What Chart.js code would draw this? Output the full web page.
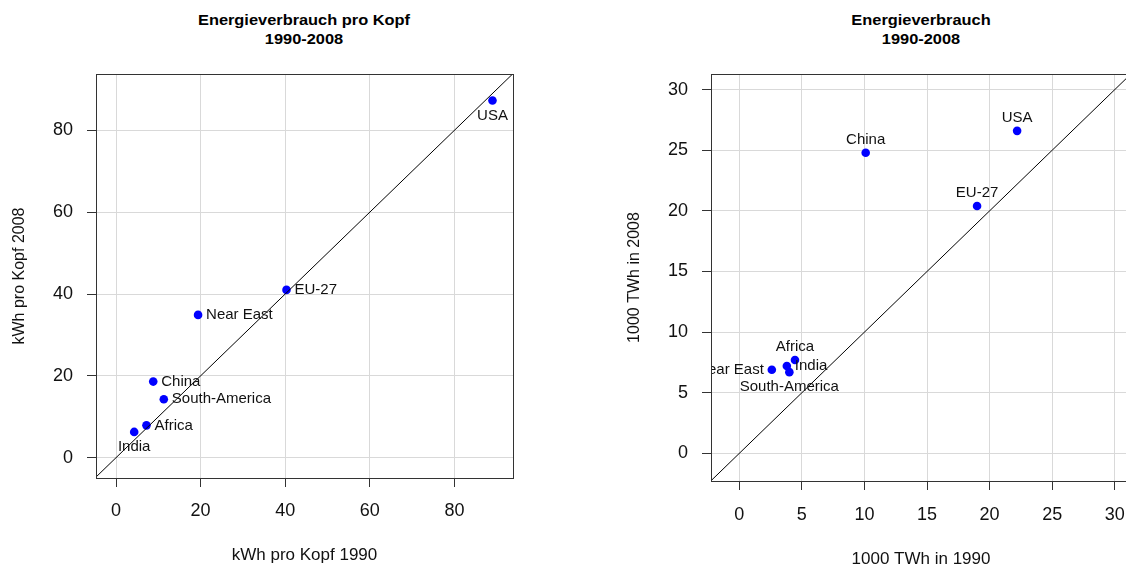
<!DOCTYPE html>
<html>
<head>
<meta charset="utf-8">
<script src="https://cdn.jsdelivr.net/npm/chart.js@4/dist/chart.umd.min.js"></script>
<style>
  html, body { margin: 0; padding: 0; width: 1126px; height: 570px; overflow: hidden; background: #fff; }
  .title {
    position: absolute; top: 11px; width: 400px; text-align: center;
    font: bold 14px "Liberation Sans", Arial, sans-serif; line-height: 19px; color: #000;
    transform: scaleX(1.17);
  }
  canvas { position: absolute; top: 0; }
</style>
</head>
<body>
<div class="title" style="left:104px">Energieverbrauch pro Kopf<br>1990-2008</div>
<div class="title" style="left:721px">Energieverbrauch<br>1990-2008</div>
<canvas id="left" width="540" height="570" style="left:0px"></canvas>
<canvas id="right" width="560" height="570" style="left:600px"></canvas>
<script>
// data
const regions = ['USA', 'EU-27', 'Near East', 'China', 'South-America', 'Africa', 'India']

const kwh1990 = [89.0, 40.3, 19.4, 8.8, 11.3, 7.2, 4.3]
const kwh2008 = [87.3, 41.0, 34.9, 18.6, 14.3, 7.9, 6.3]

const twh1990 = [22.2, 19.0, 2.6, 10.1, 4.0, 4.45, 3.8]
const twh2008 = [26.6, 20.4, 6.9, 24.8, 6.7, 7.7, 7.2]

const leftTicks = [0, 20, 40, 60, 80]
const rightTicks = [0, 5, 10, 15, 20, 25, 30]

// y = x reference line
const diagLine = [-10, 110]

// where each label sits relative to its point
const leftSides = ['below', 'right', 'right', 'right', 'right', 'right', 'below']
const rightSides = ['above', 'above', 'left', 'above', 'below', 'above', 'right']

const FONT = '"Liberation Sans", Arial, sans-serif'

const boxPlugin = {
  id: 'box',
  afterDraw(chart) {
    const { ctx, chartArea: a } = chart
    ctx.save()
    ctx.strokeStyle = '#333'
    ctx.lineWidth = 1
    ctx.strokeRect(Math.round(a.left) + 0.5, Math.round(a.top) + 0.5, Math.round(a.right - a.left), Math.round(a.bottom - a.top))
    ctx.restore()
  }
}

const labelPlugin = {
  id: 'pointLabels',
  afterDatasetsDraw(chart, args, opts) {
    const { ctx, chartArea: a } = chart
    const meta = chart.getDatasetMeta(1)
    ctx.save()
    ctx.beginPath()
    ctx.rect(a.left, a.top, a.right - a.left, a.bottom - a.top)
    ctx.clip()
    ctx.font = '15px ' + FONT
    ctx.fillStyle = '#111'
    meta.data.forEach((pt, i) => {
      const side = opts.sides[i]
      let x = pt.x, y = pt.y
      ctx.textBaseline = 'middle'
      ctx.textAlign = 'center'
      if (side == 'below') y += 15
      if (side == 'above') y -= 13
      if (side == 'right') { ctx.textAlign = 'left'; x += 8 }
      if (side == 'left') { ctx.textAlign = 'right'; x -= 8 }
      ctx.fillText(regions[i], x, y)
    })
    ctx.restore()
  }
}

const makeChart = (id, xs, ys, sides, ticks, lim, lay) => {
  const axis = (dir, title, min, max) => ({
    type: 'linear',
    position: dir == 'x' ? 'bottom' : 'left',
    min: min,
    max: max,
    afterBuildTicks: (s) => { s.ticks = ticks.map(v => ({ value: v })) },
    afterFit: (s) => {
      if (dir == 'x') s.height = lay.xH
      else s.width = lay.yW
    },
    grid: { color: '#d9d9d9', lineWidth: 1, tickColor: '#333', tickLength: 9, drawTicks: true },
    border: { display: false },
    ticks: {
      color: '#111',
      font: { family: FONT, size: 18 },
      padding: dir == 'x' ? lay.xPad : 14,
      maxRotation: 0
    },
    title: {
      display: true,
      text: title,
      color: '#111',
      font: { family: FONT, size: dir == 'x' ? 17 : 16 },
      padding: dir == 'x' ? { top: 0, bottom: lay.xTitlePad } : { top: lay.yTitlePad, bottom: 0 }
    }
  })

  return new Chart(document.getElementById(id), {
    type: 'scatter',
    data: {
      datasets: [
        {
          type: 'line',
          data: diagLine.map(v => ({ x: v, y: v })),
          borderColor: '#000',
          borderWidth: 1,
          pointRadius: 0,
          fill: false
        },
        {
          data: xs.map((x, i) => ({ x: x, y: ys[i] })),
          backgroundColor: '#0000ff',
          borderWidth: 0,
          pointRadius: 4.3
        }
      ]
    },
    options: {
      responsive: false,
      animation: false,
      layout: { padding: { top: 74, right: lay.right, left: 0, bottom: 0 } },
      plugins: {
        legend: { display: false },
        tooltip: { enabled: false },
        pointLabels: { sides: sides }
      },
      scales: {
        x: axis('x', lay.xTitle, lim[0], lim[1]),
        y: axis('y', lay.yTitle, lim[2], lim[3])
      }
    },
    plugins: [labelPlugin, boxPlugin]
  })
}

makeChart('left', kwh1990, kwh2008, leftSides, leftTicks, [-4.73, 93.85, -4.96, 93.76], {
  right: 27, yW: 96, xH: 92, xPad: 13, xTitlePad: 4.8, yTitlePad: 10.4,
  xTitle: 'kWh pro Kopf 1990', yTitle: 'kWh pro Kopf 2008'
})

makeChart('right', twh1990, twh2008, rightSides, rightTicks, [-2.26, 31.3, -2.28, 31.29], {
  right: 29, yW: 111, xH: 89, xPad: 14, xTitlePad: 0.8, yTitlePad: 25.4,
  xTitle: '1000 TWh in 1990', yTitle: '1000 TWh in 2008'
})
</script>
</body>
</html>
